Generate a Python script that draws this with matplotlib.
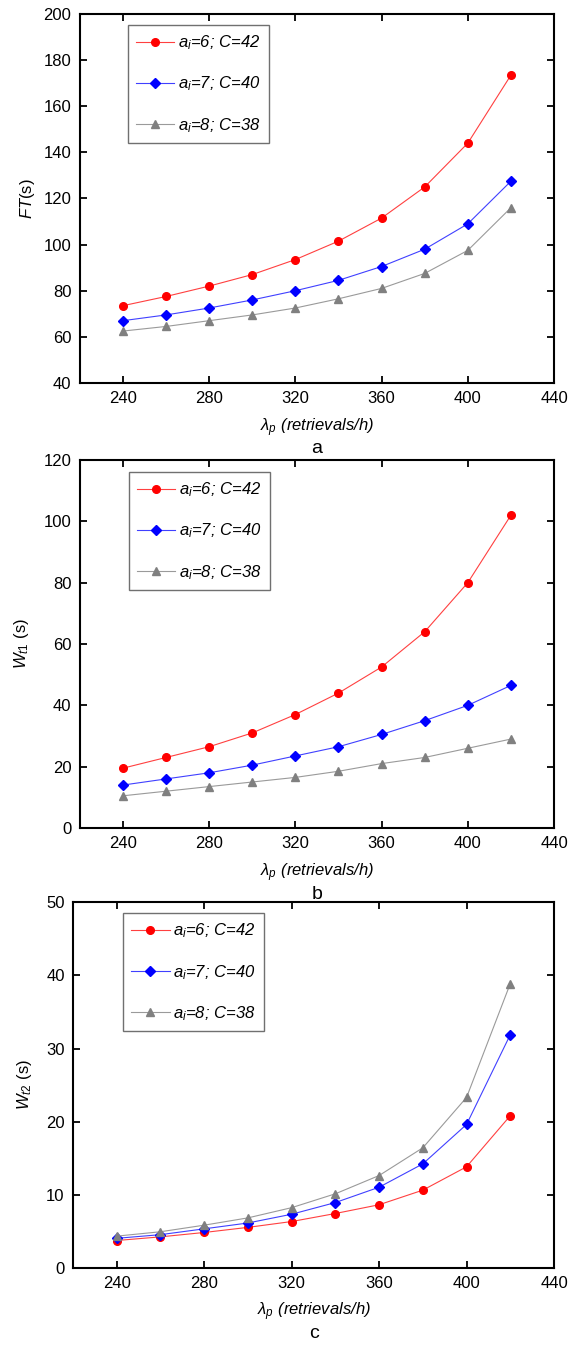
import matplotlib
matplotlib.use("Agg")
import matplotlib.pyplot as plt

plt.rcParams["font.family"] = ["Liberation Sans", "DejaVu Sans"]
plt.rcParams["mathtext.fontset"] = "custom"
plt.rcParams["mathtext.rm"] = "Liberation Sans"
plt.rcParams["mathtext.it"] = "Liberation Sans:italic"
plt.rcParams["mathtext.default"] = "it"

lam = [240, 260, 280, 300, 320, 340, 360, 380, 400, 420]

ft_6 = [73.5, 77.5, 82, 87, 93.5, 101.5, 111.5, 125, 144, 173.5]
ft_7 = [67, 69.5, 72.5, 76, 80, 84.5, 90.5, 98, 109, 127.5]
ft_8 = [62.5, 64.5, 67, 69.5, 72.5, 76.5, 81, 87.5, 97.5, 116]

wt1_6 = [19.5, 23, 26.5, 31, 37, 44, 52.5, 64, 80, 102]
wt1_7 = [14, 16, 18, 20.5, 23.5, 26.5, 30.5, 35, 40, 46.5]
wt1_8 = [10.5, 12, 13.5, 15, 16.5, 18.5, 21, 23, 26, 29]

wt2_6 = [3.7, 4.2, 4.8, 5.5, 6.3, 7.4, 8.6, 10.6, 13.8, 20.8]
wt2_7 = [4.0, 4.5, 5.3, 6.1, 7.3, 8.9, 11.0, 14.2, 19.6, 31.9]
wt2_8 = [4.3, 4.9, 5.8, 6.8, 8.2, 10.1, 12.6, 16.4, 23.3, 38.9]

labels = [r"$a_i$=6; C=42", r"$a_i$=7; C=40", r"$a_i$=8; C=38"]

fig = plt.figure(figsize=(5.7, 13.47), dpi=100)

panels = [
    # rect, data, ylim, yticks, ylabel, ylabel pad, letter, legend anchor
    ([0.140, 0.7157, 0.832, 0.2739], (ft_6, ft_7, ft_8), (40, 200), range(40, 201, 20),
     r"$FT$(s)", 5, "a", (0.101, 0.970)),
    ([0.140, 0.3853, 0.832, 0.2732], (wt1_6, wt1_7, wt1_8), (0, 120), range(0, 121, 20),
     r"$W_{t1}$ (s)", 9, "b", (0.103, 0.967)),
    ([0.128, 0.0590, 0.844, 0.2710], (wt2_6, wt2_7, wt2_8), (0, 50), range(0, 51, 10),
     r"$W_{t2}$ (s)", 9, "c", (0.104, 0.970)),
]

for rect, data, ylim, yticks, ylabel, ypad, letter, anchor in panels:
    ax = fig.add_axes(rect)
    y6, y7, y8 = data
    ax.plot(lam, y6, color="#ff4040", lw=0.8, marker="o", ms=5.5,
            mfc="#ff0000", mec="#ff0000", label=labels[0])
    ax.plot(lam, y7, color="#4040ff", lw=0.8, marker="D", ms=5,
            mfc="#0000ff", mec="#0000ff", label=labels[1])
    ax.plot(lam, y8, color="#9a9a9a", lw=0.8, marker="^", ms=6,
            mfc="#808080", mec="#808080", label=labels[2])

    ax.set_xlim(220, 440)
    ax.set_ylim(*ylim)
    ax.set_xticks(range(240, 441, 40))
    ax.set_yticks(list(yticks))
    ax.tick_params(direction="in", length=5, width=1.3, labelsize=12,
                   top=True, right=True, pad=6)
    for s in ax.spines.values():
        s.set_linewidth(1.5)

    ax.set_ylabel(ylabel, fontsize=12, labelpad=ypad)
    ax.set_xlabel(r"$\lambda_p$ (retrievals/h)", fontsize=12,
                  fontstyle="italic", labelpad=7)
    # panel letter just under the x label
    ax.annotate(letter, xy=(0.5, 0), xycoords="axes fraction",
                xytext=(0, -66), textcoords="offset pixels",
                ha="center", va="center", fontsize=14)

    leg = ax.legend(loc="upper left", bbox_to_anchor=anchor,
                    prop={"style": "italic", "size": 12},
                    fancybox=False, edgecolor="#707070", framealpha=1,
                    handlelength=2.3, labelspacing=1.35, borderpad=0.5,
                    handletextpad=0.2, borderaxespad=0)
    leg.get_frame().set_linewidth(1.0)

fig.savefig("out.png", dpi=100)
